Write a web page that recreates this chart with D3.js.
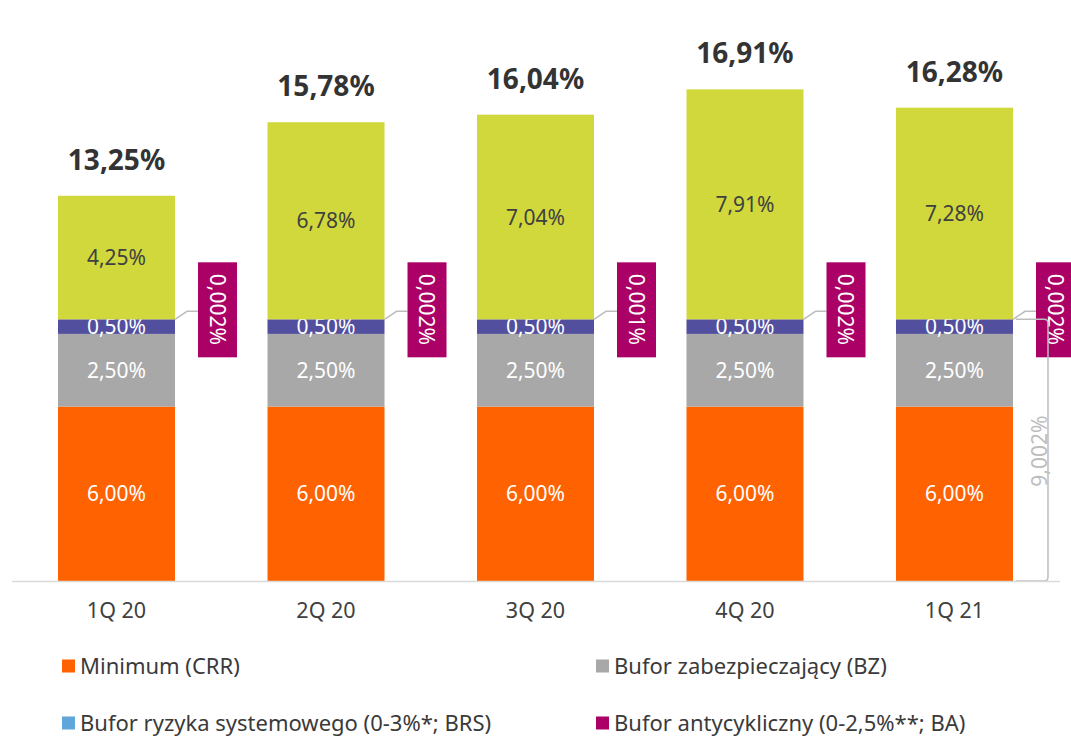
<!DOCTYPE html>
<html>
<head>
<meta charset="utf-8">
<script src="https://cdn.jsdelivr.net/npm/d3@7"></script>
<style>
  html, body { margin: 0; padding: 0; background: #fff; }
  svg { display: block; font-family: "Noto Sans", "Open Sans", sans-serif; }
</style>
</head>
<body>
<svg id="chart" width="1071" height="738"></svg>
<script>
// Quarters
const categories = ["1Q 20", "2Q 20", "3Q 20", "4Q 20", "1Q 21"];

// Capital requirement components (% of risk-weighted assets)
const minimumCRR   = [6.00, 6.00, 6.00, 6.00, 6.00];
const buforBZ      = [2.50, 2.50, 2.50, 2.50, 2.50];
const buforBRS     = [0.00, 0.00, 0.00, 0.00, 0.00];
const buforOSII    = [0.50, 0.50, 0.50, 0.50, 0.50];
const buforBA      = [0.002, 0.002, 0.001, 0.002, 0.002];
const nadwyzka     = [4.25, 6.78, 7.04, 7.91, 7.28];
const totals       = [13.25, 15.78, 16.04, 16.91, 16.28];

// Labels as printed
const baLabels     = ["0,002%", "0,002%", "0,001%", "0,002%", "0,002%"];
const bracketLabel = "9,002%";

const legendItems = [
  { name: "Minimum (CRR)", key: "crr" },
  { name: "Bufor zabezpieczający (BZ)", key: "bz" },
  { name: "Bufor ryzyka systemowego (0-3%*; BRS)", key: "brs" },
  { name: "Bufor antycykliczny (0-2,5%**; BA)", key: "ba" }
];

const colors = {
  crr: "#FF6200",
  bz: "#A8A8A8",
  brs: "#60A6DA",
  osii: "#524F9E",
  ba: "#AB0066",
  extra: "#D0D83C"
};

const seriesDefs = [
  { key: "crr", values: minimumCRR, textColor: "#fff" },
  { key: "bz", values: buforBZ, textColor: "#fff" },
  { key: "brs", values: buforBRS, textColor: null },
  { key: "osii", values: buforOSII, textColor: "#fff" },
  { key: "ba", values: buforBA, textColor: null },
  { key: "extra", values: nadwyzka, textColor: "#404040" }
];

const fmt = v => v.toFixed(2).replace(".", ",") + "%";

const svg = d3.select("#chart");
const baseY = 581;
const pxPerUnit = 29.07;
const FONT = "\"Noto Sans\", \"Open Sans\", sans-serif";

const x = d3.scaleBand()
  .domain(categories)
  .range([11.75, 1059.25])
  .paddingInner(0.4415)
  .paddingOuter(0.2208);

const y = d3.scaleLinear()
  .domain([0, 18])
  .range([baseY, baseY - 18 * pxPerUnit]);

// Stack the components
const rows = categories.map((c, i) => {
  const r = { cat: c };
  seriesDefs.forEach(s => { r[s.key] = s.values[i]; });
  return r;
});
const stack = d3.stack().keys(seriesDefs.map(s => s.key))(rows);

const g = svg.append("g");

stack.forEach((layer, li) => {
  const def = seriesDefs[li];
  g.selectAll(null)
    .data(layer)
    .join("rect")
    .attr("x", d => x(d.data.cat))
    .attr("width", x.bandwidth())
    .attr("y", d => y(d[1]))
    .attr("height", d => y(d[0]) - y(d[1]))
    .attr("fill", colors[def.key]);

  if (def.textColor) {
    g.selectAll(null)
      .data(layer)
      .join("text")
      .attr("x", d => x(d.data.cat) + x.bandwidth() / 2)
      .attr("y", d => (y(d[0]) + y(d[1])) / 2)
      .attr("dy", "0.36em")
      .attr("text-anchor", "middle")
      .attr("font-size", 21)
      .attr("fill", def.textColor)
      .text(d => fmt(d[1] - d[0]));
  }
});

// Baseline axis
const xAxis = d3.axisBottom(x).tickSize(0).tickPadding(22);
const axG = svg.append("g").attr("transform", `translate(0,${baseY})`).call(xAxis);
axG.select(".domain").attr("stroke", "#D9D9D9").attr("stroke-width", 1.5);
axG.selectAll("text").attr("font-size", 21.5).attr("fill", "#404040")
  .attr("font-family", FONT);

// Totals above the bars
g.selectAll(null)
  .data(categories)
  .join("text")
  .attr("x", d => x(d) + x.bandwidth() / 2)
  .attr("y", (d, i) => y(totals[i]) - 26)
  .attr("text-anchor", "middle")
  .attr("font-size", 28)
  .attr("font-weight", "bold")
  .attr("fill", "#333")
  .text((d, i) => fmt(totals[i]));

// Countercyclical buffer callouts with leader lines
const baTop = categories.map((c, i) => minimumCRR[i] + buforBZ[i] + buforBRS[i] + buforOSII[i] + buforBA[i]);
categories.forEach((c, i) => {
  const bx = x(c) + x.bandwidth();
  const yy = y(baTop[i]);
  g.append("path")
    .attr("d", `M${bx},${yy} L${bx + 12},${yy - 8} L${bx + 23},${yy - 8}`)
    .attr("fill", "none")
    .attr("stroke", "#BDBDBD")
    .attr("stroke-width", 1.5);
  g.append("rect")
    .attr("x", bx + 23)
    .attr("y", yy - 57)
    .attr("width", 39)
    .attr("height", 95)
    .attr("fill", colors.ba);
  g.append("text")
    .attr("transform", `translate(${bx + 42.5},${yy - 10}) rotate(90)`)
    .attr("text-anchor", "middle")
    .attr("dy", "0.36em")
    .attr("font-size", 21)
    .attr("fill", "#fff")
    .text(baLabels[i]);
});

// Bracket on the last bar summing the required buffers
{
  const last = categories[categories.length - 1];
  const i = categories.length - 1;
  const bx = x(last) + x.bandwidth();
  const yTop = y(baTop[i]);
  const yBot = y(0);
  const vx = bx + 35;
  g.append("path")
    .attr("d", `M${bx + 3},${yTop} L${vx - 4},${yTop} Q${vx},${yTop} ${vx},${yTop + 4} L${vx},${yBot - 4} Q${vx},${yBot} ${vx - 4},${yBot} L${bx + 3},${yBot}`)
    .attr("fill", "none")
    .attr("stroke", "#BDBDBD")
    .attr("stroke-width", 1.5);
  g.append("text")
    .attr("transform", `translate(${vx - 9},${(yTop + yBot) / 2 + 1}) rotate(-90)`)
    .attr("text-anchor", "middle")
    .attr("dy", "0.36em")
    .attr("font-size", 21)
    .attr("fill", "#BDBDBD")
    .text(bracketLabel);
}

// Legend
const legendPos = [[62, 666], [596, 666], [62, 723], [596, 723]];
const lg = svg.append("g");
legendItems.forEach((it, i) => {
  const [lx, ly] = legendPos[i];
  lg.append("rect")
    .attr("x", lx).attr("y", ly - 6.5)
    .attr("width", 13).attr("height", 13)
    .attr("fill", colors[it.key]);
  lg.append("text")
    .attr("x", lx + 18).attr("y", ly)
    .attr("dy", "0.36em")
    .attr("font-size", 22)
    .attr("fill", "#3a3a3a")
    .text(it.name);
});
</script>
</body>
</html>
